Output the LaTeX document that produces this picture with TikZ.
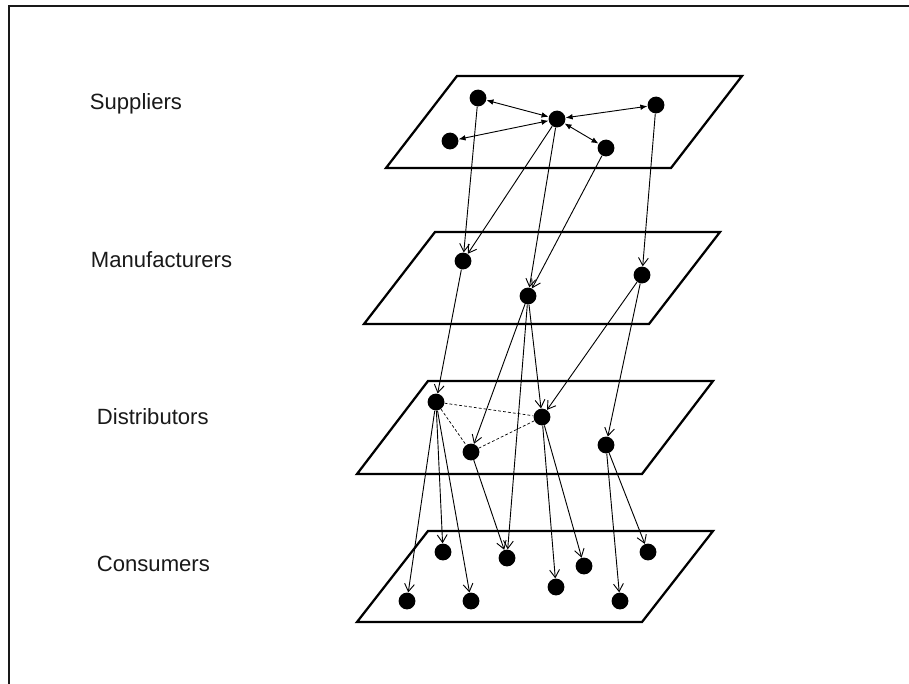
\documentclass[tikz,border=0pt]{standalone}
\usepackage{fontspec}
\setmainfont{Liberation Sans}
\usetikzlibrary{arrows.meta}

\begin{document}
\begin{tikzpicture}[x=0.025cm,y=-0.025cm,
    plane/.style={line width=1.6pt,line join=miter},
    firm/.style={circle,fill=black,inner sep=0pt,minimum size=0.42cm},
    tier/.style={anchor=base west,font=\fontsize{15.7}{18}\selectfont,text=black!90},
    flow/.style={-{Straight Barb[length=5.5pt,width=7pt]},line width=0.65pt},
    peer/.style={{Latex[length=5pt,width=4pt]}-{Latex[length=5pt,width=4pt]},line width=0.65pt},
    tie/.style={dash pattern=on 2pt off 1.5pt,line width=0.5pt}]
  \useasboundingbox (0,0) rectangle (909,684);

  % Frame
  \draw[line width=1.5pt,black!90] (9,684) -- (9,6) -- (909,6);

  % Planes (top to bottom)
  \draw[plane] (457,76) -- ++(285,0) -- ++(-71,92) -- ++(-285,0) -- cycle;
  \draw[plane] (435,232) -- ++(285,0) -- ++(-71,92) -- ++(-285,0) -- cycle;
  \draw[plane] (428,381) -- ++(285,0) -- ++(-71,93) -- ++(-285,0) -- cycle;
  \draw[plane] (428,531) -- ++(285,0) -- ++(-71,91) -- ++(-285,0) -- cycle;

  % Tier labels
  \node[tier] (lsup) at (85,109) {Suppliers};
  \node[tier] (lman) at (86,267) {Manufacturers};
  \node[tier] (ldis) at (92,424) {Distributors};
  \node[tier] (lcon) at (92,571) {Consumers};

  % Suppliers
  \node[firm] (s1) at (478,98) {};
  \node[firm] (s2) at (557,119) {};
  \node[firm] (s3) at (656,105) {};
  \node[firm] (s4) at (450,141) {};
  \node[firm] (s5) at (606,148) {};
  % Manufacturers
  \node[firm] (m1) at (463,261) {};
  \node[firm] (m2) at (528,296) {};
  \node[firm] (m3) at (642,275) {};
  % Distributors
  \node[firm] (d1) at (436,402) {};
  \node[firm] (d2) at (542,417) {};
  \node[firm] (d3) at (471,452) {};
  \node[firm] (d4) at (606,445) {};
  % Consumers
  \node[firm] (c1) at (443,552) {};
  \node[firm] (c2) at (507,558) {};
  \node[firm] (c3) at (584,566) {};
  \node[firm] (c4) at (648,552) {};
  \node[firm] (c5) at (407,601) {};
  \node[firm] (c6) at (471,601) {};
  \node[firm] (c7) at (556,587) {};
  \node[firm] (c8) at (620,601) {};

  % Links among suppliers
  \draw[peer] (s1) -- (s2);
  \draw[peer] (s2) -- (s3);
  \draw[peer] (s2) -- (s4);
  \draw[peer] (s2) -- (s5);

  % Links among distributors
  \draw[tie] (d1) -- (d2);
  \draw[tie] (d1) -- (d3);
  \draw[tie] (d3) -- (d2);

  % Suppliers -> manufacturers
  \draw[flow] (s1) -- (m1);
  \draw[flow] (s2) -- (m1);
  \draw[flow] (s2) -- (m2);
  \draw[flow] (s5) -- (m2);
  \draw[flow] (s3) -- (m3);

  % Manufacturers -> distributors
  \draw[flow] (m1) -- (d1);
  \draw[flow] (m2) -- (d3);
  \draw[flow] (m2) -- (d2);
  \draw[flow] (m2) -- (c2);
  \draw[flow] (m3) -- (d2);
  \draw[flow] (m3) -- (d4);

  % Distributors -> consumers
  \draw[flow] (d1) -- (c5);
  \draw[flow] (d1) -- (c1);
  \draw[flow] (d1) -- (c6);
  \draw[flow] (d3) -- (c2);
  \draw[flow] (d2) -- (c7);
  \draw[flow] (d2) -- (c3);
  \draw[flow] (d4) -- (c8);
  \draw[flow] (d4) -- (c4);
\end{tikzpicture}
\end{document}
